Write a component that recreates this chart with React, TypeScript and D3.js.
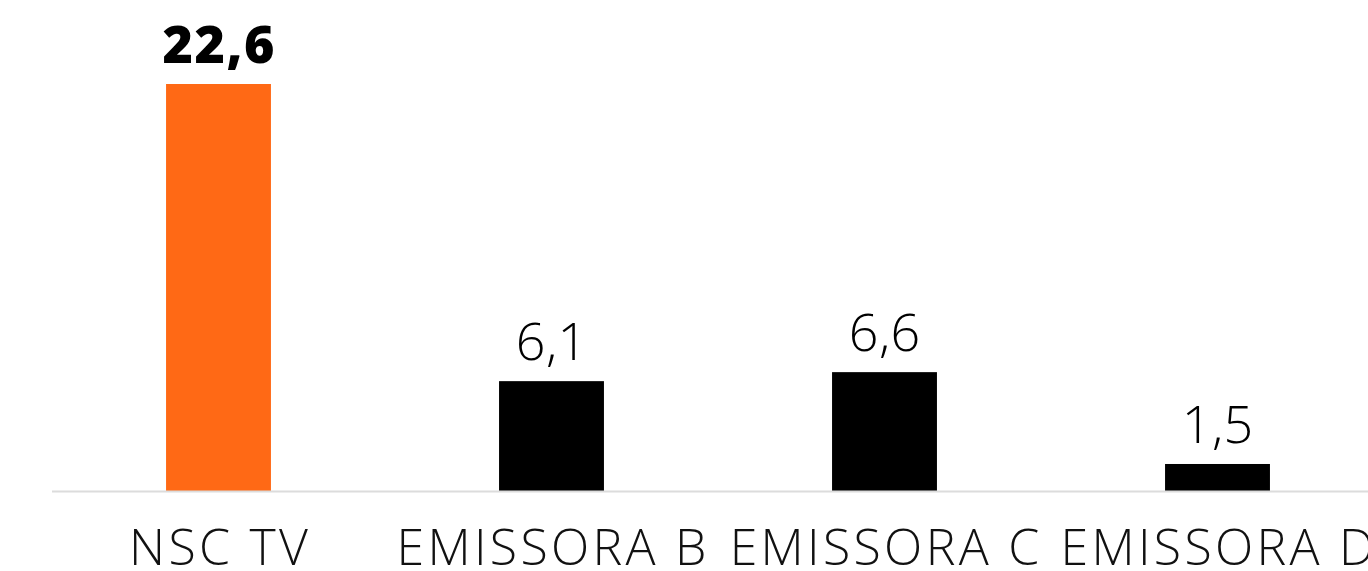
import React from "react";
import * as d3 from "d3";

const categories = ["NSC TV", "EMISSORA B", "EMISSORA C", "EMISSORA D"];
const values = [22.6, 6.1, 6.6, 1.5];
const valueLabels = ["22,6", "6,1", "6,6", "1,5"];
const highlight = [true, false, false, false];

const W = 1368;
const H = 571;
const baseline = 491;

export default function App() {
  const x = d3
    .scaleBand<string>()
    .domain(categories)
    .range([52, 1384])
    .paddingInner(0.685)
    .paddingOuter(0.3425);
  const y = d3.scaleLinear().domain([0, 22.6]).range([baseline, 84]);
  const font = "'Open Sans', sans-serif";
  const catSpacing = 3.3;
  return (
    <svg
      width={W}
      height={H}
      style={{ position: "absolute", left: 0, top: 0, background: "#fff" }}
    >
      {categories.map((c, i) => (
        <rect
          key={c}
          x={x(c)}
          y={y(values[i])}
          width={x.bandwidth()}
          height={baseline - y(values[i])}
          fill={highlight[i] ? "#FF6915" : "#000"}
        />
      ))}
      <line x1={52} x2={W} y1={baseline + 0.5} y2={baseline + 0.5} stroke="#dcdcdc" strokeWidth={2} />
      {categories.map((c, i) => {
        const ls = highlight[i] ? 1.5 : 0.5;
        return (
          <text
            key={"v" + c}
            x={(x(c) as number) + x.bandwidth() / 2 + ls / 2}
            y={y(values[i]) - 21}
            textAnchor="middle"
            fontFamily={font}
            fontSize={52}
            fontWeight={highlight[i] ? 800 : 300}
            letterSpacing={ls}
            fill="#000"
          >
            {valueLabels[i]}
          </text>
        );
      })}
      {categories.map((c) => (
        <text
          key={"c" + c}
          x={(x(c) as number) + x.bandwidth() / 2 + catSpacing / 2}
          y={565}
          textAnchor="middle"
          fontFamily={font}
          fontSize={50}
          fontWeight={300}
          letterSpacing={catSpacing}
          fill="#111"
        >
          {c}
        </text>
      ))}
    </svg>
  );
}
